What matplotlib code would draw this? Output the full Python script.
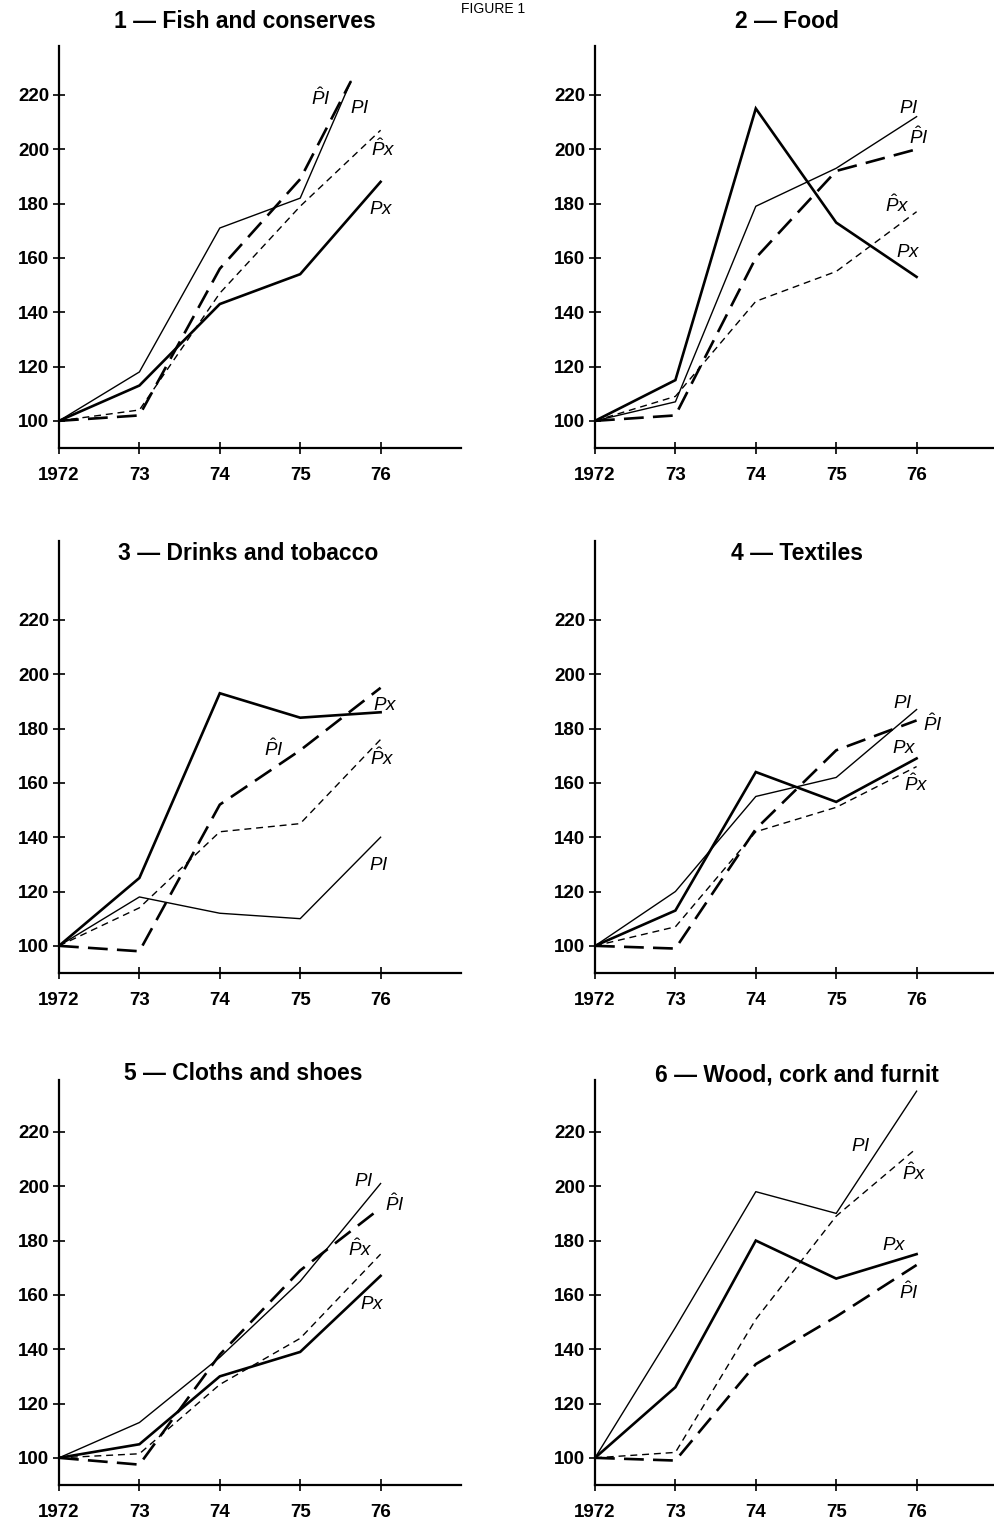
#!/usr/bin/env python3
import matplotlib
matplotlib.use("Agg")
import matplotlib.pyplot as plt

# ---- data (index, 1972 = 100) ----
years = [1972, 1973, 1974, 1975, 1976]
# in panel 1 the PI and P^I lines stop before 1976
years_cut = [1972, 1973, 1974, 1975, 1975.63]

titles = ["1 \u2014 Fish and conserves", "2 \u2014 Food", "3 \u2014 Drinks and tobacco",
          "4 \u2014 Textiles", "5 \u2014 Cloths and shoes", "6 \u2014 Wood, cork and furnit"]
year_labels = ["1972", "73", "74", "75", "76"]
y_ticks = [100, 120, 140, 160, 180, 200, 220]

fish_px = [100, 113, 143, 154, 188]
fish_pi = [100, 118, 171, 182, 225]
fish_pi_hat = [100, 102, 156, 189, 225]
fish_px_hat = [100, 104, 147, 179, 207]

food_px = [100, 115, 215, 173, 153]
food_pi = [100, 107, 179, 193, 212]
food_pi_hat = [100, 102, 160, 192, 200]
food_px_hat = [100, 109, 144, 155, 177]

drinks_px = [100, 125, 193, 184, 186]
drinks_pi = [100, 118, 112, 110, 140]
drinks_pi_hat = [100, 98, 152, 172, 195]
drinks_px_hat = [100, 114, 142, 145, 176]

textiles_px = [100, 113, 164, 153, 169]
textiles_pi = [100, 120, 155, 162, 187]
textiles_pi_hat = [100, 99, 143, 172, 183]
textiles_px_hat = [100, 107, 142, 151, 166]

cloths_px = [100, 105, 130, 139, 167]
cloths_pi = [100, 113, 137, 165, 201]
cloths_pi_hat = [100, 97.5, 138, 169, 192]
cloths_px_hat = [100, 101.5, 127, 144, 175]

wood_px = [100, 126, 180, 166, 175]
wood_pi = [100, 148, 198, 190, 235]
wood_pi_hat = [100, 99, 134.5, 152, 171]
wood_px_hat = [100, 102, 151, 189, 214]

panels = [
    (fish_px, fish_pi, fish_pi_hat, fish_px_hat),
    (food_px, food_pi, food_pi_hat, food_px_hat),
    (drinks_px, drinks_pi, drinks_pi_hat, drinks_px_hat),
    (textiles_px, textiles_pi, textiles_pi_hat, textiles_px_hat),
    (cloths_px, cloths_pi, cloths_pi_hat, cloths_px_hat),
    (wood_px, wood_pi, wood_pi_hat, wood_px_hat),
]

# ---- layout (pixels) ----
W, H = 994, 1519
plt.rcParams['mathtext.fontset'] = 'custom'
plt.rcParams['mathtext.it'] = 'Liberation Sans:italic'
plt.rcParams['mathtext.rm'] = 'Liberation Sans'

lefts = [59, 595]
bottoms = [448, 973, 1485]
ytops = [238, 249, 239]
px_per_unit = 2.716
ax_w = 402

# label positions (x, y) for Px, PI, P^I, P^x per panel
label_pos = [
    [(1976.01, 178), (1975.74, 215.5), (1975.26, 219), (1976.03, 200)],
    [(1975.90, 162.5), (1975.90, 215.5), (1976.03, 204.5), (1975.76, 179.5)],
    [(1976.06, 189), (1975.98, 130), (1974.67, 172.5), (1976.02, 169)],
    [(1975.85, 173), (1975.83, 189.5), (1976.20, 181.5), (1976.00, 159.5)],
    [(1975.90, 157), (1975.79, 202), (1976.17, 193.5), (1975.75, 177)],
    [(1975.72, 178.5), (1975.30, 215), (1975.90, 161), (1975.97, 205)],
]
title_pos = [(245, 22), (787, 22), (248, 553), (797, 553), (243, 1073), (797, 1075)]
label_text = [r'$Px$', r'$PI$', r'$\hat{P}I$', r'$\hat{P}x$']

fig = plt.figure(figsize=(W / 100, H / 100), dpi=100)

for i, (px, pi, pi_hat, px_hat) in enumerate(panels):
    row, col = divmod(i, 2)
    ymin, ymax = 90, ytops[row]
    h = (ymax - ymin) * px_per_unit
    ax = fig.add_axes([lefts[col] / W, 1 - bottoms[row] / H, ax_w / W, h / H])
    ax.set_xlim(1972, 1977)
    ax.set_ylim(ymin, ymax)

    xs_pi = years_cut if i == 0 else years
    ax.plot(years, px, color='black', lw=1.9, solid_joinstyle='miter')
    ax.plot(xs_pi, pi, color='black', lw=1.0)
    ax.plot(xs_pi, pi_hat, color='black', lw=1.9, dashes=(7.5, 3.5))
    ax.plot(years, px_hat, color='black', lw=1.0, dashes=(5, 3.5))

    for (lx, ly), txt in zip(label_pos[i], label_text):
        ax.text(lx, ly, txt, fontsize=13.5, ha='center', va='center')

    for s in ['top', 'right']:
        ax.spines[s].set_visible(False)
    for s in ['left', 'bottom']:
        ax.spines[s].set_linewidth(1.6)

    ax.set_yticks(y_ticks)
    ax.set_yticklabels([str(v) for v in y_ticks], fontfamily='Liberation Sans',
                       fontweight='bold', fontsize=13.5)
    ax.set_xticks(years)
    ax.set_xticklabels(year_labels, fontfamily='Liberation Sans', fontweight='bold', fontsize=13.5)
    ax.tick_params(axis='y', direction='inout', length=8, width=1.2, pad=3)
    ax.tick_params(axis='x', direction='inout', length=9, width=1.2, pad=9)

    tx, ty = title_pos[i]
    fig.text(tx / W, 1 - ty / H, titles[i], ha='center', va='center',
             fontfamily='Liberation Sans', fontweight='bold', fontsize=16.5)

fig.text(493 / W, 1 - 2 / H, 'FIGURE 1', ha='center', va='top',
         fontfamily='Liberation Sans', fontsize=10)

fig.savefig('out.png', dpi=100)
